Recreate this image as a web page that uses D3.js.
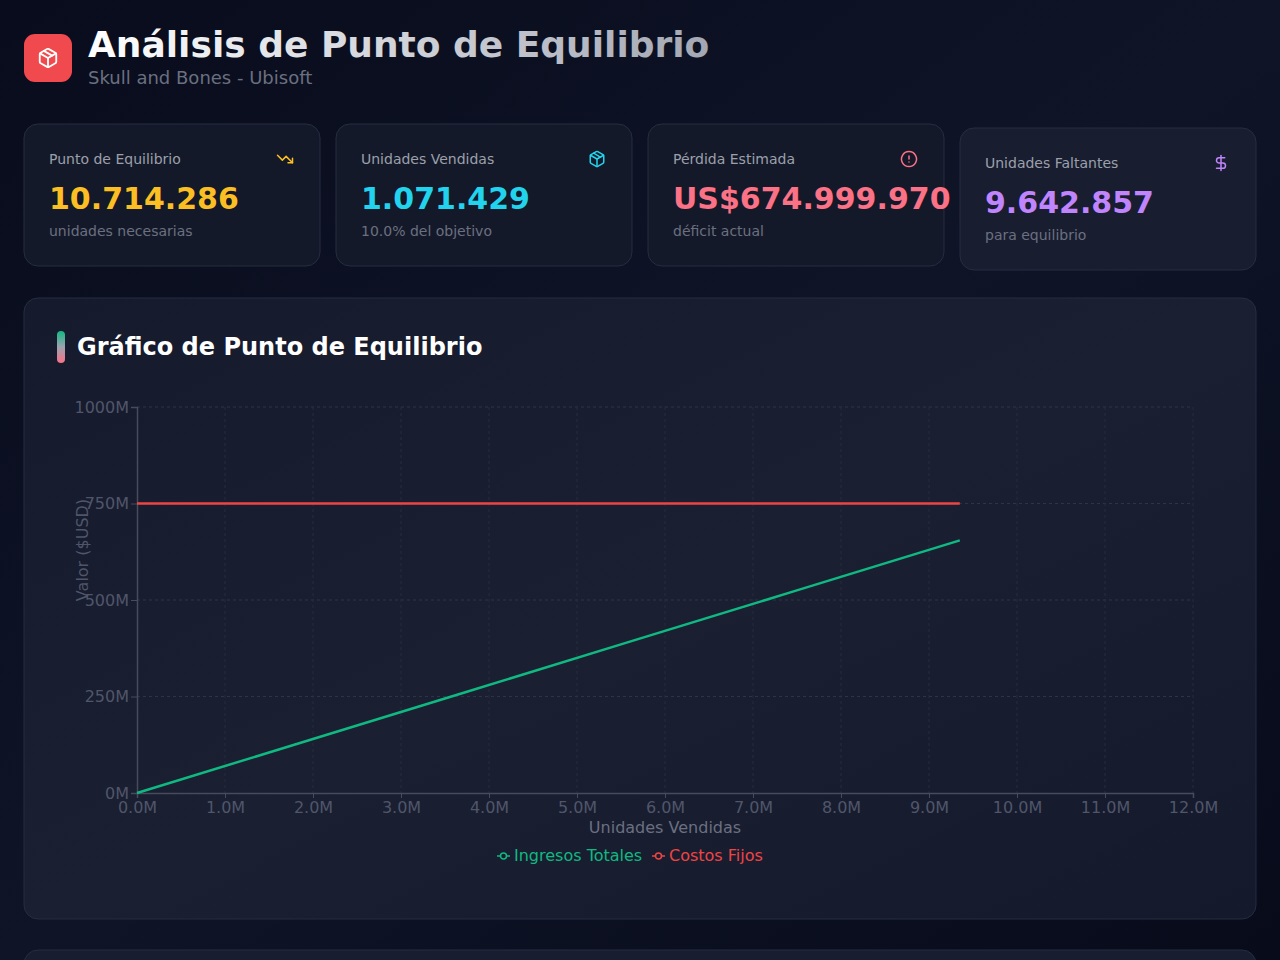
<!DOCTYPE html>
<html>
<head>
<meta charset="utf-8">
<style>
  body {
    margin: 0;
    background-color: #0a0e1d;
    overflow: hidden;
  }
  svg {
    display: block;
    font-family: "DejaVu Sans", sans-serif;
  }
</style>
<script src="https://cdn.jsdelivr.net/npm/d3@7/dist/d3.min.js"></script>
</head>
<body>
<script>
// datos
const unidades = [0, 1870000, 3740000, 5610000, 7480000, 9350000];
const ingresosTotales = [0, 130900000, 261800000, 392700000, 523600000, 654500000];
const costosFijos = [750000000, 750000000, 750000000, 750000000, 750000000, 750000000];

const xTicks = [0, 1e6, 2e6, 3e6, 4e6, 5e6, 6e6, 7e6, 8e6, 9e6, 10e6, 11e6, 12e6];
const yTicks = [0, 250e6, 500e6, 750e6, 1000e6];

const kpiLabels = ['Punto de Equilibrio', 'Unidades Vendidas', 'Pérdida Estimada', 'Unidades Faltantes'];
const kpiValues = ['10.714.286', '1.071.429', 'US$674.999.970', '9.642.857'];
const kpiNotes = ['unidades necesarias', '10.0% del objetivo', 'déficit actual', 'para equilibrio'];
const kpiColors = ['#fbbf24', '#22d3ee', '#fb7185', '#c084fc'];
const kpiIcons = ['trend', 'package', 'alert', 'dollar'];

const seriesNames = ['Ingresos Totales', 'Costos Fijos'];
const seriesColors = ['#10b981', '#ef4444'];

const W = 1280, H = 960;

const svg = d3.select('body')
  .append('svg')
  .attr('width', W)
  .attr('height', H);

const defs = svg.append('defs');

const bg = defs.append('linearGradient')
  .attr('id', 'bg')
  .attr('x1', '0').attr('y1', '0').attr('x2', '1').attr('y2', '1');
bg.append('stop').attr('offset', '0%').attr('stop-color', '#080c1c');
bg.append('stop').attr('offset', '50%').attr('stop-color', '#0f1427');
bg.append('stop').attr('offset', '100%').attr('stop-color', '#070b1a');

const titleGrad = defs.append('linearGradient')
  .attr('id', 'titleGrad')
  .attr('gradientUnits', 'userSpaceOnUse')
  .attr('x1', 88).attr('y1', 0).attr('x2', 710).attr('y2', 0);
titleGrad.append('stop').attr('offset', '0%').attr('stop-color', '#ffffff');
titleGrad.append('stop').attr('offset', '100%').attr('stop-color', '#a3a7b3');

const pillGrad = defs.append('linearGradient')
  .attr('id', 'pillGrad')
  .attr('x1', '0').attr('y1', '0').attr('x2', '0').attr('y2', '1');
pillGrad.append('stop').attr('offset', '0%').attr('stop-color', '#10b981');
pillGrad.append('stop').attr('offset', '50%').attr('stop-color', '#9ca3af');
pillGrad.append('stop').attr('offset', '100%').attr('stop-color', '#fb7185');

const cardGrad = defs.append('linearGradient')
  .attr('id', 'cardGrad')
  .attr('x1', '0').attr('y1', '0').attr('x2', '1').attr('y2', '1');
cardGrad.append('stop').attr('offset', '0%').attr('stop-color', '#151a2d');
cardGrad.append('stop').attr('offset', '50%').attr('stop-color', '#1a1f32');
cardGrad.append('stop').attr('offset', '100%').attr('stop-color', '#141a2c');

svg.append('rect')
  .attr('width', W)
  .attr('height', H)
  .attr('fill', 'url(#bg)');

// iconos estilo lucide (24x24)
const iconPaths = {
  package: [
    'M7.5 4.27l9 5.15',
    'M21 8a2 2 0 0 0-1-1.73l-7-4a2 2 0 0 0-2 0l-7 4A2 2 0 0 0 3 8v8a2 2 0 0 0 1 1.73l7 4a2 2 0 0 0 2 0l7-4A2 2 0 0 0 21 16Z',
    'M3.3 7l8.7 5 8.7-5',
    'M12 22V12'
  ],
  trend: ['M22 17L13.5 8.5 8.5 13.5 2 7', 'M16 17h6v-6'],
  alert: ['M12 2a10 10 0 1 0 0.001 0Z', 'M12 8v4', 'M12 16h.01'],
  dollar: ['M12 2v20', 'M17 5H9.5a3.5 3.5 0 0 0 0 7h5a3.5 3.5 0 0 1 0 7H6']
};

const drawIcon = (parent, name, cx, cy, size, color) => {
  const g = parent.append('g')
    .attr('transform', `translate(${cx - size / 2},${cy - size / 2}) scale(${size / 24})`)
    .attr('fill', 'none')
    .attr('stroke', color)
    .attr('stroke-width', 2)
    .attr('stroke-linecap', 'round')
    .attr('stroke-linejoin', 'round');
  iconPaths[name].forEach(d => g.append('path').attr('d', d));
};

// cabecera
svg.append('rect')
  .attr('x', 24).attr('y', 34)
  .attr('width', 48).attr('height', 48)
  .attr('rx', 11)
  .attr('fill', '#f04a4e');
drawIcon(svg, 'package', 48, 58, 22, '#ffffff');

svg.append('text')
  .attr('x', 88).attr('y', 57)
  .attr('font-size', 36)
  .attr('font-weight', 'bold')
  .attr('fill', 'url(#titleGrad)')
  .text('Análisis de Punto de Equilibrio');

svg.append('text')
  .attr('x', 88).attr('y', 84)
  .attr('font-size', 18)
  .attr('fill', '#6b7080')
  .text('Skull and Bones - Ubisoft');

// tarjetas KPI
const cardW = 296, cardH = 142, cardGap = 16;
kpiLabels.forEach((label, i) => {
  const x = 24 + i * (cardW + cardGap);
  const y = i === 3 ? 128 : 124;
  const g = svg.append('g').attr('transform', `translate(${x},${y})`);
  g.append('rect')
    .attr('width', cardW).attr('height', cardH)
    .attr('rx', 14)
    .attr('fill', i === 3 ? '#181d30' : '#141929')
    .attr('stroke', '#272d40')
    .attr('stroke-width', 1);
  g.append('text')
    .attr('x', 25).attr('y', 40)
    .attr('font-size', 14)
    .attr('fill', '#9ca0ab')
    .text(label);
  drawIcon(g, kpiIcons[i], 261, 35, 18, kpiColors[i]);
  g.append('text')
    .attr('x', 25).attr('y', 85)
    .attr('font-size', 30)
    .attr('font-weight', 'bold')
    .attr('fill', kpiColors[i])
    .text(kpiValues[i]);
  g.append('text')
    .attr('x', 25).attr('y', 112)
    .attr('font-size', 14)
    .attr('fill', '#6b7080')
    .text(kpiNotes[i]);
});

// tarjeta del grafico
svg.append('rect')
  .attr('x', 24).attr('y', 298)
  .attr('width', 1232).attr('height', 621)
  .attr('rx', 14)
  .attr('fill', 'url(#cardGrad)')
  .attr('stroke', '#272d40');

svg.append('rect')
  .attr('x', 24).attr('y', 950)
  .attr('width', 1232).attr('height', 40)
  .attr('rx', 14)
  .attr('fill', '#181d30')
  .attr('stroke', '#272d40');

svg.append('rect')
  .attr('x', 57).attr('y', 331)
  .attr('width', 8).attr('height', 32)
  .attr('rx', 4)
  .attr('fill', 'url(#pillGrad)');

svg.append('text')
  .attr('x', 77).attr('y', 355)
  .attr('font-size', 24)
  .attr('font-weight', 'bold')
  .attr('fill', '#ffffff')
  .text('Gráfico de Punto de Equilibrio');

// area de trazado
const plot = { left: 137, right: 1193, top: 407, bottom: 793 };

const x = d3.scaleLinear()
  .domain([0, 12e6])
  .range([plot.left, plot.right]);

const y = d3.scaleLinear()
  .domain([0, 1000e6])
  .range([plot.bottom, plot.top]);

const grid = svg.append('g');
grid.selectAll('.hgrid')
  .data(yTicks.slice(1))
  .join('line')
  .attr('x1', plot.left).attr('x2', plot.right)
  .attr('y1', d => y(d)).attr('y2', d => y(d))
  .attr('stroke', '#2e3447')
  .attr('stroke-dasharray', '3 3');
grid.selectAll('.vgrid')
  .data(xTicks.slice(1))
  .join('line')
  .attr('x1', d => x(d)).attr('x2', d => x(d))
  .attr('y1', plot.top).attr('y2', plot.bottom)
  .attr('stroke', '#262c3e')
  .attr('stroke-dasharray', '3 3');

const axisColor = '#464c5c';
const tickColor = '#50566a';

const xAxis = svg.append('g')
  .attr('transform', `translate(0,${plot.bottom})`)
  .call(d3.axisBottom(x)
    .tickValues(xTicks)
    .tickSize(5)
    .tickFormat(d => (d / 1e6).toFixed(1) + 'M'));

const yAxis = svg.append('g')
  .attr('transform', `translate(${plot.left},0)`)
  .call(d3.axisLeft(y)
    .tickValues(yTicks)
    .tickSize(6)
    .tickFormat(d => (d / 1e6) + 'M'));

[xAxis, yAxis].forEach(a => {
  a.select('.domain').attr('stroke', axisColor).attr('stroke-width', 1.5);
  a.selectAll('.tick line').attr('stroke', axisColor);
  a.selectAll('.tick text')
    .attr('fill', tickColor)
    .attr('font-size', 16)
    .attr('font-family', '"DejaVu Sans", sans-serif');
});
xAxis.selectAll('.tick text').attr('dy', '0.75em').attr('y', 8);
yAxis.selectAll('.tick text').attr('x', -8);

svg.append('text')
  .attr('x', plot.left + (plot.right - plot.left) / 2)
  .attr('y', 833)
  .attr('text-anchor', 'middle')
  .attr('font-size', 16)
  .attr('fill', '#6b7080')
  .text('Unidades Vendidas');

svg.append('text')
  .attr('transform', 'translate(88,550) rotate(-90)')
  .attr('text-anchor', 'middle')
  .attr('font-size', 16)
  .attr('fill', '#50566a')
  .text('Valor ($USD)');

// lineas
const series = [ingresosTotales, costosFijos];
series.forEach((vals, i) => {
  const line = d3.line()
    .x((d, j) => x(unidades[j]))
    .y(d => y(d));
  svg.append('path')
    .datum(vals)
    .attr('d', line)
    .attr('fill', 'none')
    .attr('stroke', seriesColors[i])
    .attr('stroke-width', 2.5);
});

// leyenda
const legendX = [497, 652];
seriesNames.forEach((name, i) => {
  const g = svg.append('g').attr('transform', `translate(${legendX[i]},856)`);
  g.append('line')
    .attr('x1', 0).attr('x2', 13)
    .attr('y1', 0).attr('y2', 0)
    .attr('stroke', seriesColors[i])
    .attr('stroke-width', 1.5);
  g.append('circle')
    .attr('cx', 6.5).attr('cy', 0).attr('r', 3)
    .attr('fill', '#181d30')
    .attr('stroke', seriesColors[i])
    .attr('stroke-width', 1.5);
  g.append('text')
    .attr('x', 17).attr('y', 5)
    .attr('font-size', 16)
    .attr('fill', seriesColors[i])
    .text(name);
});
</script>
</body>
</html>
